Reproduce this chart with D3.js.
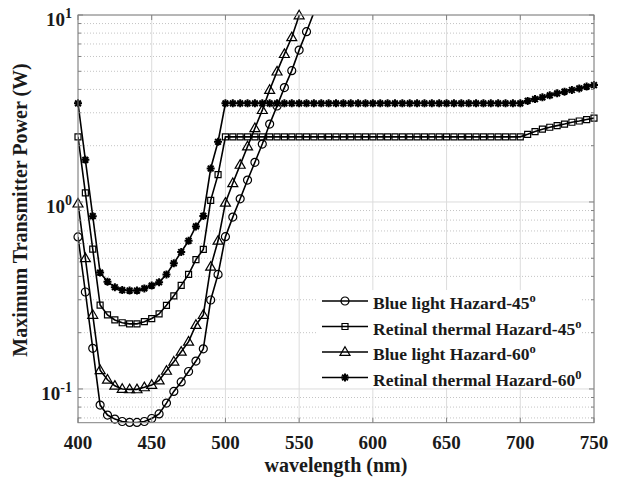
<!DOCTYPE html>
<html>
<head>
<meta charset="utf-8">
<script src="https://cdn.jsdelivr.net/npm/d3@7"></script>
<style>
  body { margin: 0; background: #fff; }
  svg { display: block; }
  text { font-family: "Liberation Serif", "Times New Roman", serif; font-weight: bold; fill: #1a1a1a; }
</style>
</head>
<body>
<div class="canvas"></div>
<script>
// wavelength grid (nm)
const wavelength = [400, 405, 410, 415, 420, 425, 430, 435, 440, 445, 450, 455, 460, 465, 470, 475, 480, 485, 490, 495,
  500, 505, 510, 515, 520, 525, 530, 535, 540, 545, 550, 555, 560, 565, 570, 575, 580, 585, 590, 595,
  600, 605, 610, 615, 620, 625, 630, 635, 640, 645, 650, 655, 660, 665, 670, 675, 680, 685, 690, 695,
  700, 705, 710, 715, 720, 725, 730, 735, 740, 745, 750];

// (W); the blue light curves leave the plot at the top
const blue45 = [0.65, 0.33, 0.165, 0.082, 0.0725, 0.069, 0.067, 0.0662, 0.0662, 0.067, 0.0695, 0.0735, 0.084, 0.097, 0.109, 0.124, 0.141, 0.164, 0.299, 0.41,
  0.652, 0.83, 1.04, 1.31, 1.63, 2.04, 2.61, 3.26, 4.09, 5.04, 6.49, 8.14, 10.3];

const thermal45 = [2.23, 1.12, 0.56, 0.281, 0.249, 0.234, 0.226, 0.223, 0.223, 0.229, 0.238, 0.252, 0.28, 0.315, 0.358, 0.41, 0.492, 0.558, 1.02, 1.40,
  2.23, 2.23, 2.23, 2.23, 2.23, 2.23, 2.23, 2.23, 2.23, 2.23, 2.23, 2.23, 2.23, 2.23, 2.23, 2.23, 2.23, 2.23, 2.23, 2.23,
  2.23, 2.23, 2.23, 2.23, 2.23, 2.23, 2.23, 2.23, 2.23, 2.23, 2.23, 2.23, 2.23, 2.23, 2.23, 2.23, 2.23, 2.23, 2.23, 2.23,
  2.23, 2.30, 2.38, 2.45, 2.51, 2.56, 2.61, 2.67, 2.71, 2.76, 2.81];

const blue60 = [0.98, 0.50, 0.249, 0.126, 0.112, 0.104, 0.1, 0.0995, 0.0995, 0.102, 0.105, 0.111, 0.125, 0.14, 0.158, 0.179, 0.22, 0.249, 0.45, 0.62,
  0.99, 1.26, 1.58, 1.98, 2.48, 3.10, 3.97, 4.98, 6.18, 7.6, 9.95, 12.8];

const thermal60 = [3.37, 1.68, 0.84, 0.419, 0.375, 0.35, 0.338, 0.336, 0.336, 0.345, 0.357, 0.372, 0.41, 0.47, 0.54, 0.62, 0.74, 0.842, 1.51, 2.10,
  3.37, 3.37, 3.37, 3.37, 3.37, 3.37, 3.37, 3.37, 3.37, 3.37, 3.37, 3.37, 3.37, 3.37, 3.37, 3.37, 3.37, 3.37, 3.37, 3.37,
  3.37, 3.37, 3.37, 3.37, 3.37, 3.37, 3.37, 3.37, 3.37, 3.37, 3.37, 3.37, 3.37, 3.37, 3.37, 3.37, 3.37, 3.37, 3.37, 3.37,
  3.37, 3.47, 3.55, 3.63, 3.72, 3.81, 3.89, 3.97, 4.05, 4.14, 4.22];

const xTicks = [400, 450, 500, 550, 600, 650, 700, 750];
const yTicks = [0.1, 1, 10];
const yTickExp = ['-1', '0', '1'];
const seriesNames = ['Blue light Hazard-45', 'Retinal thermal Hazard-45', 'Blue light Hazard-60', 'Retinal thermal Hazard-60'];
const seriesSup = ['o', 'o', 'o', '0'];
const seriesMarker = ['circle', 'square', 'triangle', 'star'];

// plot box
const box = { left: 78, right: 594, top: 15, bottom: 422.7 };

const svg = d3.select('.canvas')
    .append('svg')
    .attr('width', 622)
    .attr('height', 480);

svg.append('rect').attr('width', 622).attr('height', 480).attr('fill', '#fff');

const x = d3.scaleLinear().domain([400, 750]).range([box.left, box.right]);
const y = d3.scaleLog().domain([0.066, 10]).range([box.bottom, box.top]);

// minor log ticks 2..9 of each decade
const minorTicks = y.ticks().filter(v => yTicks.indexOf(v) < 0 && v >= 0.066 && v <= 10);

// grid
const grid = svg.append('g');
grid.selectAll('line.minor')
    .data(minorTicks)
    .enter().append('line')
    .attr('class', 'minor')
    .attr('x1', box.left).attr('x2', box.right)
    .attr('y1', d => y(d)).attr('y2', d => y(d))
    .attr('stroke', '#c4c4c4')
    .attr('stroke-dasharray', '1,2');

grid.selectAll('line.ymaj')
    .data(yTicks)
    .enter().append('line')
    .attr('class', 'ymaj')
    .attr('x1', box.left).attr('x2', box.right)
    .attr('y1', d => y(d)).attr('y2', d => y(d))
    .attr('stroke', '#dcdcdc');

grid.selectAll('line.xmaj')
    .data(xTicks)
    .enter().append('line')
    .attr('class', 'xmaj')
    .attr('x1', d => x(d)).attr('x2', d => x(d))
    .attr('y1', box.top).attr('y2', box.bottom)
    .attr('stroke', '#dcdcdc');

// clip lines to the box
svg.append('clipPath').attr('id', 'clip')
    .append('rect')
    .attr('x', box.left).attr('y', box.top)
    .attr('width', box.right - box.left).attr('height', box.bottom - box.top);

// marker shapes
const markerPath = (type) => {
    if (type === 'circle') return d3.symbol(d3.symbolCircle, Math.PI * 16)();
    if (type === 'square') return d3.symbol(d3.symbolSquare, 36)();
    if (type === 'triangle') return 'M0,-5.2L5,3.4L-5,3.4Z';
    const r = 4, a = r * 0.72;
    return `M0,${-r}L0,${r}M${-r},0L${r},0M${-a},${-a}L${a},${a}M${-a},${a}L${a},${-a}`;
};

const allSeries = [blue45, thermal45, blue60, thermal60].map((vals, i) => ({
    name: seriesNames[i],
    marker: seriesMarker[i],
    points: vals.map((v, j) => ({ w: wavelength[j], v: v }))
}));

const line = d3.line().x(d => x(d.w)).y(d => y(d.v));

const plot = svg.append('g');
allSeries.forEach(s => {
    plot.append('path')
        .attr('d', line(s.points))
        .attr('clip-path', 'url(#clip)')
        .attr('fill', 'none')
        .attr('stroke', '#000')
        .attr('stroke-width', 1.6);

    plot.selectAll(null)
        .data(s.points.filter(d => d.v <= 10 && d.v >= 0.066))
        .enter().append('path')
        .attr('d', markerPath(s.marker))
        .attr('transform', d => `translate(${x(d.w)},${y(d.v)})`)
        .attr('fill', 'none')
        .attr('stroke', '#000')
        .attr('stroke-width', s.marker === 'star' ? 2 : 1.2);
});

// axes box and ticks
const axes = svg.append('g').attr('stroke', '#808080').attr('fill', 'none');
axes.append('rect')
    .attr('x', box.left).attr('y', box.top)
    .attr('width', box.right - box.left).attr('height', box.bottom - box.top);

xTicks.forEach(t => {
    axes.append('line').attr('x1', x(t)).attr('x2', x(t)).attr('y1', box.bottom).attr('y2', box.bottom - 5);
    axes.append('line').attr('x1', x(t)).attr('x2', x(t)).attr('y1', box.top).attr('y2', box.top + 5);
});
yTicks.concat(minorTicks).forEach(t => {
    const len = yTicks.indexOf(t) >= 0 ? 5 : 3;
    axes.append('line').attr('x1', box.left).attr('x2', box.left + len).attr('y1', y(t)).attr('y2', y(t));
    axes.append('line').attr('x1', box.right).attr('x2', box.right - len).attr('y1', y(t)).attr('y2', y(t));
});

// tick labels
svg.selectAll('text.xt')
    .data(xTicks)
    .enter().append('text')
    .attr('class', 'xt')
    .attr('x', d => x(d))
    .attr('y', 449)
    .attr('text-anchor', 'middle')
    .attr('font-size', 19)
    .text(d => d);

yTicks.forEach((t, i) => {
    const lab = svg.append('text')
        .attr('x', 72)
        .attr('y', y(t) + 11)
        .attr('text-anchor', 'end')
        .attr('font-size', 19);
    lab.append('tspan').text('10');
    lab.append('tspan').attr('dy', -8).attr('font-size', 14).text(yTickExp[i]);
});

// axis titles
svg.append('text')
    .attr('x', (box.left + box.right) / 2)
    .attr('y', 472)
    .attr('text-anchor', 'middle')
    .attr('font-size', 20)
    .text('wavelength (nm)');

svg.append('text')
    .attr('transform', 'translate(27,210) rotate(-90)')
    .attr('text-anchor', 'middle')
    .attr('font-size', 20)
    .text('Maximum Transmitter Power (W)');

// legend
const legend = svg.append('g');
legend.append('rect')
    .attr('x', 318).attr('y', 290)
    .attr('width', 264).attr('height', 98)
    .attr('fill', '#fff');

allSeries.forEach((s, i) => {
    const ly = 301 + i * 25.5;
    legend.append('line')
        .attr('x1', 322).attr('x2', 368)
        .attr('y1', ly).attr('y2', ly)
        .attr('stroke', '#000').attr('stroke-width', 1.6);
    legend.append('path')
        .attr('d', markerPath(s.marker))
        .attr('transform', `translate(345,${ly})`)
        .attr('fill', 'none')
        .attr('stroke', '#000')
        .attr('stroke-width', s.marker === 'star' ? 2 : 1.2);
    const t = legend.append('text')
        .attr('x', 373)
        .attr('y', ly + 8)
        .attr('font-size', 17.5);
    t.append('tspan').text(s.name);
    t.append('tspan').attr('dy', -7).attr('font-size', 12.5).text(seriesSup[i]);
});
</script>
</body>
</html>
